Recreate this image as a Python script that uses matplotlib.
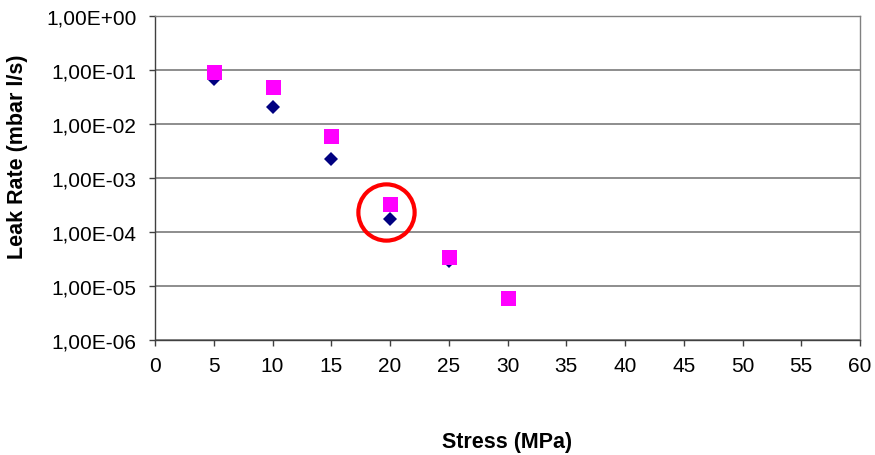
#!/usr/bin/env python3
"""Leak rate vs stress, log scale, with the 20 MPa point circled."""
import matplotlib
matplotlib.use("Agg")
import matplotlib.pyplot as plt
from matplotlib.ticker import FixedLocator, FixedFormatter

plt.rcParams["font.family"] = ["Liberation Sans", "DejaVu Sans"]

stress = [5, 10, 15, 20, 25, 30]
leak_diamond = [6.8e-2, 2.1e-2, 2.25e-3, 1.74e-4, 2.9e-5, 5.8e-6]
leak_square = [9.2e-2, 4.8e-2, 6.1e-3, 3.37e-4, 3.44e-5, 6.0e-6]

# highlighted point (red ring)
ring_x, ring_y = 19.66, 2.32e-4

y_ticks = [1e-6, 1e-5, 1e-4, 1e-3, 1e-2, 1e-1, 1e0]
y_labels = ["1,00E-06", "1,00E-05", "1,00E-04", "1,00E-03",
            "1,00E-02", "1,00E-01", "1,00E+00"]
x_ticks = list(range(0, 61, 5))

fig = plt.figure(figsize=(8.75, 4.56), dpi=100)
ax = fig.add_axes([155 / 875, 1 - 341 / 456, 705 / 875, 324 / 456])

ax.plot(stress, leak_diamond, "D", ms=7.6, color="#000080", mec="#000080",
        mew=0, zorder=3)
ax.plot(stress, leak_square, "s", ms=10.8, color="#ff00ff", mec="#ff00ff",
        mew=0, zorder=4)
ax.plot([ring_x], [ring_y], "o", ms=40.5, mfc="none", mec="#ff0000", mew=3.0,
        zorder=5)

ax.set_yscale("log")
ax.set_ylim(1e-6, 1e0)
ax.set_xlim(0, 60)
ax.yaxis.set_major_locator(FixedLocator(y_ticks))
ax.yaxis.set_major_formatter(FixedFormatter(y_labels))
ax.yaxis.set_minor_locator(FixedLocator([]))
ax.set_xticks(x_ticks)

ax.grid(True, axis="y", color="#7a7a7a", lw=1.2)
ax.set_axisbelow(True)
for side in ["top", "right"]:
    ax.spines[side].set_color("#808080")
    ax.spines[side].set_linewidth(1.0)
for side in ["left", "bottom"]:
    ax.spines[side].set_color("#404040")
    ax.spines[side].set_linewidth(1.0)

ax.tick_params(axis="both", direction="out", length=4.5, width=1.0,
               color="#404040", labelsize=15, labelcolor="black")
ax.tick_params(axis="y", pad=9)
ax.tick_params(axis="x", pad=7)

ax.set_ylabel("Leak Rate (mbar l/s)", fontsize=15.5, fontweight="bold")
ax.set_xlabel("Stress (MPa)", fontsize=15.5, fontweight="bold")
ax.yaxis.set_label_coords(-0.180, 0.569)
ax.xaxis.set_label_coords(0.5, -0.281)

fig.savefig("out.png", dpi=100)
